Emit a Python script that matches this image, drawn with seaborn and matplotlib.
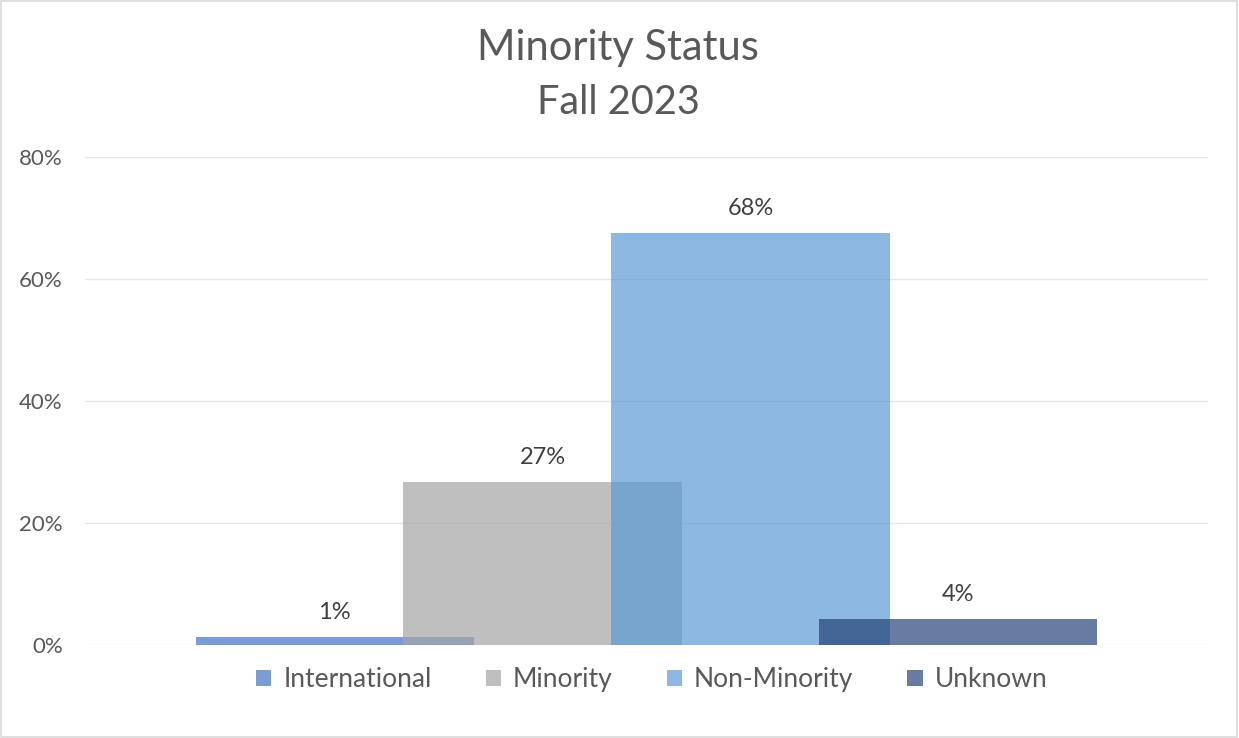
import matplotlib
matplotlib.use("Agg")
import matplotlib.pyplot as plt
import seaborn as sns
import pandas as pd
from matplotlib.patches import Patch, Rectangle

categories = ["International", "Minority", "Non-Minority", "Unknown"]
values = [0.013, 0.267, 0.675, 0.043]
labels = ["1%", "27%", "68%", "4%"]
colors = ["#4472C4", "#A5A5A5", "#5B9BD5", "#264478"]
yticks = [0, 0.2, 0.4, 0.6, 0.8]
ytick_labels = ["0%", "20%", "40%", "60%", "80%"]

sns.set_theme(style="white")
plt.rcParams["font.family"] = ["Lato", "DejaVu Sans"]

df = pd.DataFrame({"cat": categories, "val": values})

fig = plt.figure(figsize=(12.39, 7.38), dpi=100)
ax = fig.add_axes([85 / 1239, 1 - 645 / 738, 1123 / 1239, (645 - 157) / 738])

sns.barplot(data=df, x="cat", y="val", hue="cat", palette=colors,
            order=categories, hue_order=categories, width=1.337,
            alpha=0.7, ax=ax, legend=False, saturation=1, linewidth=0)

for cont, lab in zip(ax.containers, labels):
    ax.bar_label(cont, labels=[lab], padding=10, fontsize=17, color="#404040")

ax.set_xlim(-1.2, 4.2)
ax.set_ylim(0, 0.8)
ax.set_yticks(yticks)
ax.set_yticklabels(ytick_labels, fontsize=16, color="#595959")
ax.set_xticks([])
ax.set_xlabel("")
ax.set_ylabel("")
ax.tick_params(axis="y", length=0, pad=16)
ax.grid(axis="y", color="#e6e6e6", linewidth=1)
ax.set_axisbelow(True)
for s in ax.spines.values():
    s.set_visible(False)

handles = [Patch(facecolor=c, alpha=0.7, edgecolor="none") for c in colors]
fig.legend(handles, categories, loc="center", bbox_to_anchor=(0.526, 0.079),
           ncol=4, frameon=False, fontsize=19, handlelength=0.58,
           handleheight=0.58, handletextpad=0.45, columnspacing=2.05,
           labelcolor="#595959")

fig.text(0.499, 0.935, "Minority Status", ha="center", va="center",
         fontsize=30, color="#595959")
fig.text(0.4995, 0.861, "Fall 2023", ha="center", va="center",
         fontsize=28.5, color="#595959")

fig.patches.append(Rectangle((0.001, 0.002), 0.997, 0.996, transform=fig.transFigure,
                             fill=False, edgecolor="#d9d9d9", linewidth=1.2))

fig.savefig("out.png", dpi=100, facecolor="white")
